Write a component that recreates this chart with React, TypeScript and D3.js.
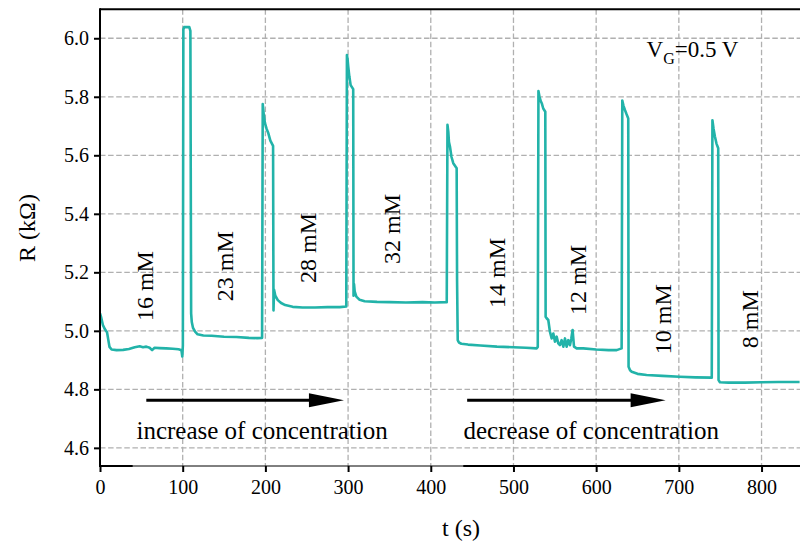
import React, { useEffect, useRef } from 'react';
import * as d3 from 'd3';

// resistance trace
const timeS = [
  0, 1.5, 3.5, 6, 8.5, 10, 11.5, 14, 20, 28, 35, 42, 48, 52, 56, 60, 63, 66, 72, 80, 88, 95, 98.5, 99.5, 100.2,
  100.8, 101.8, 108, 109.3, 110.2,
  111, 112.5, 115, 118, 125, 135, 150, 165, 180, 190, 196,
  196.8, 198, 199.5, 201.5, 203.5, 206, 209.3, 209.8, 210.5, 212, 215, 219, 224, 233, 245, 260, 275, 290, 297.8,
  298.6, 299.3, 300.2, 301.5, 303.1, 306.2, 306.6, 307.2, 308, 310, 314, 320, 335, 350, 370, 390, 405, 419.3,
  420.2, 421.2, 422, 423.2, 425, 427.2, 431.3, 431.8, 432.6, 434, 437, 445, 460, 480, 500, 515, 528, 529.4,
  530.2, 531.5, 533, 534.2, 536, 538.5, 538.9,
  540.1, 542.1, 544.1, 546.2, 548.2, 550.2, 552.2, 554.2, 556.2, 558.2, 560.3, 562.3, 564.3, 566.3, 568.3, 570, 571.5, 573.2, 576.4, 584.4, 600, 615, 624.8, 630.8,
  631.6, 633, 634.8, 636.8, 638.8, 639.2, 641, 643, 650, 661, 680, 701, 720, 739.8,
  740.6, 742, 743.6, 745.5, 747.6, 748, 749.7, 760, 780, 800, 820, 846,
];
const resistance = [
  5.06, 5.045, 5.02, 5.005, 4.995, 4.97, 4.945, 4.936, 4.934, 4.935, 4.938, 4.944, 4.947, 4.944, 4.946, 4.942, 4.934, 4.942, 4.941, 4.94, 4.939, 4.937, 4.934, 4.912, 4.95,
  6.03, 6.038, 6.038, 6.025, 5.06,
  5.03, 5.01, 4.997, 4.988, 4.984, 4.983, 4.98, 4.979, 4.976, 4.975, 4.976,
  5.775, 5.74, 5.71, 5.69, 5.676, 5.65, 5.632, 5.07, 5.14, 5.12, 5.105, 5.095, 5.088, 5.082, 5.08, 5.08, 5.081, 5.081, 5.083,
  5.943, 5.93, 5.903, 5.87, 5.84, 5.826, 5.12, 5.16, 5.135, 5.117, 5.106, 5.101, 5.099, 5.098, 5.097, 5.098, 5.097, 5.098,
  5.704, 5.68, 5.645, 5.63, 5.595, 5.573, 5.556, 5.17, 4.968, 4.96, 4.956, 4.953, 4.95, 4.946, 4.944, 4.942, 4.94, 4.945,
  5.82, 5.8, 5.785, 5.778, 5.76, 5.749, 5.048,
  5.043, 5.037, 4.997, 4.974, 4.991, 4.963, 4.98, 4.957, 4.951, 4.968, 4.946, 4.974, 4.946, 4.968, 4.951, 4.975, 5.003, 4.946, 4.94, 4.94, 4.936, 4.934, 4.934, 4.94,
  5.787, 5.77, 5.755, 5.74, 5.726, 4.877, 4.865, 4.86, 4.853, 4.849, 4.846, 4.843, 4.841, 4.84,
  5.72, 5.69, 5.664, 5.64, 5.624, 4.832, 4.824, 4.823, 4.823, 4.824, 4.825, 4.825,
];

const xTicks = [0, 100, 200, 300, 400, 500, 600, 700, 800];
const yTicks = [4.6, 4.8, 5.0, 5.2, 5.4, 5.6, 5.8, 6.0];

const concLabels = ['16 mM', '23 mM', '28 mM', '32 mM', '14 mM', '12 mM', '10 mM', '8 mM'];
const concT = [54, 151, 251, 353, 480, 578, 681, 786];
const concR = [5.153, 5.221, 5.283, 5.348, 5.198, 5.174, 5.04, 5.04];

const arrowFrom = [56, 444];
const arrowTo = [295, 684];
const arrowR = 4.763;
const captions = ['increase of concentration', 'decrease of concentration'];
const captionT = [196, 594];
const captionR = 4.66;

const FONT = "'Liberation Serif', 'Times New Roman', 'DejaVu Serif', serif";

export default function App() {
  const ref = useRef<SVGSVGElement>(null);

  useEffect(() => {
    const width = 800;
    const left = 100, top = 9.3, bottom = 466;

    const svg = d3.select(ref.current);
    svg.selectAll('*').remove();

    const x = d3.scaleLinear().domain([0, 846.5]).range([left, width]);
    const y = d3.scaleLinear().domain([4.538, 6.099]).range([bottom, top]);

    svg.append('defs').append('clipPath').attr('id', 'plotclip')
      .append('rect').attr('x', left).attr('y', top).attr('width', width - left).attr('height', bottom - top);

    // grid
    const grid = svg.append('g').attr('stroke', '#b0b0b0').attr('stroke-width', 1.3).attr('stroke-dasharray', '5.5,2.6');
    grid.selectAll('line.v').data(xTicks.slice(1)).enter().append('line')
      .attr('x1', d => x(d)).attr('x2', d => x(d)).attr('y1', top).attr('y2', bottom);
    grid.selectAll('line.h').data(yTicks).enter().append('line')
      .attr('x1', left).attr('x2', width).attr('y1', d => y(d)).attr('y2', d => y(d));

    // trace
    const line = d3.line<number>().x((_, i) => x(timeS[i])).y(d => y(d));
    svg.append('path')
      .datum(resistance)
      .attr('clip-path', 'url(#plotclip)')
      .attr('fill', 'none')
      .attr('stroke', '#22b3a9')
      .attr('stroke-width', 2.6)
      .attr('stroke-linejoin', 'round')
      .attr('d', line);

    // concentration labels
    concLabels.forEach((lab, i) => {
      svg.append('text')
        .attr('transform', `translate(${x(concT[i])},${y(concR[i])}) rotate(-90)`)
        .attr('text-anchor', 'middle')
        .attr('dominant-baseline', 'central')
        .style('font-family', FONT)
        .style('font-size', '24px')
        .text(lab);
    });

    // arrows and captions
    arrowFrom.forEach((a, i) => {
      const x0 = x(a), x1 = x(arrowTo[i]), yy = y(arrowR);
      svg.append('line').attr('x1', x0).attr('x2', x1 - 30).attr('y1', yy).attr('y2', yy)
        .attr('stroke', 'black').attr('stroke-width', 3);
      svg.append('path')
        .attr('d', `M${x1 - 35},${yy - 7} L${x1},${yy} L${x1 - 35},${yy + 7} Z`)
        .attr('fill', 'black');
      svg.append('text')
        .attr('x', x(captionT[i])).attr('y', y(captionR))
        .attr('text-anchor', 'middle').attr('dominant-baseline', 'central')
        .style('font-family', FONT).style('font-size', '25px')
        .text(captions[i]);
    });

    // gate voltage
    const vg = svg.append('text').attr('x', x(661)).attr('y', y(5.936))
      .style('font-family', FONT).style('font-size', '23px');
    vg.append('tspan').text('V');
    vg.append('tspan').style('font-size', '16px').attr('dy', 7).text('G');
    vg.append('tspan').attr('dy', -7).text('=0.5 V');

    // axes
    const xAxis = svg.append('g').attr('transform', `translate(0,${bottom})`)
      .call(d3.axisBottom(x).tickValues(xTicks).tickSize(6).tickPadding(8).tickFormat(d3.format('d')));
    const yAxis = svg.append('g').attr('transform', `translate(${left},0)`)
      .call(d3.axisLeft(y).tickValues(yTicks).tickSize(6).tickPadding(5).tickFormat(d3.format('.1f')));
    [xAxis, yAxis].forEach(ax => {
      ax.attr('font-family', null).attr('font-size', null);
      ax.select('.domain').remove();
      ax.selectAll('line').attr('stroke', 'black').attr('stroke-width', 2);
      ax.selectAll('text').style('font-family', FONT).style('font-size', '20px').attr('fill', 'black');
    });

    // spines
    svg.append('line').attr('x1', left).attr('x2', left).attr('y1', top - 1).attr('y2', bottom + 1)
      .attr('stroke', 'black').attr('stroke-width', 2);
    svg.append('line').attr('x1', left).attr('x2', width).attr('y1', top).attr('y2', top)
      .attr('stroke', 'black').attr('stroke-width', 2);
    svg.append('line').attr('x1', left).attr('x2', width).attr('y1', bottom).attr('y2', bottom)
      .attr('stroke', 'black').attr('stroke-width', 1);
    [[0, 39.5], [439.3, 846.5]].forEach(([a, b]) => {
      svg.append('line').attr('x1', x(a)).attr('x2', x(b)).attr('y1', bottom).attr('y2', bottom)
        .attr('stroke', 'black').attr('stroke-width', 2);
    });

    // axis labels
    svg.append('text')
      .attr('transform', `translate(27,228) rotate(-90)`)
      .attr('text-anchor', 'middle').attr('dominant-baseline', 'central')
      .style('font-family', FONT).style('font-size', '24px')
      .text('R (kΩ)');
    svg.append('text')
      .attr('x', 461).attr('y', 528)
      .attr('text-anchor', 'middle').attr('dominant-baseline', 'central')
      .style('font-family', FONT).style('font-size', '24px')
      .text('t (s)');
  }, []);

  return (
    <svg ref={ref} width={800} height={546}
      style={{ position: 'absolute', left: 0, top: 0, background: 'white' }} />
  );
}
